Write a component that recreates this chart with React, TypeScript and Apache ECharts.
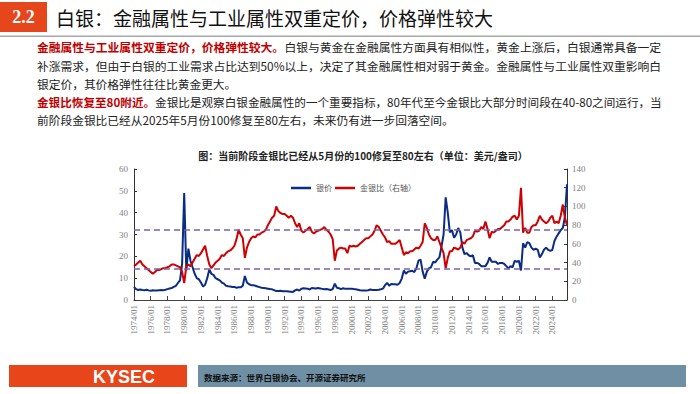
import React, { useEffect, useRef } from "react";
import * as echarts from "echarts";

// ---------- data (quarterly) ----------
const startYear = 1974;
const endYear = 2025;
const months = ["01", "04", "07", "10"];
const categories: string[] = [];
for (let y = startYear; y <= endYear; y++) for (const m of months) categories.push(`${y}/${m}`);

// 银价 (left axis, USD/oz)
const silverPrice = [
  6.0, 5.0, 4.6, 4.8, // 1974
  4.6, 4.5, 4.7, 4.4,
  4.2, 4.5, 4.3, 4.4,
  4.5, 4.6, 4.5, 4.7,
  5.0, 5.3, 5.5, 6.0,
  6.5, 7.8, 9.0, 16.5,
  49.0, 13.5, 23.5, 18.0, // 1980
  15.0, 12.0, 10.0, 9.5,
  8.0, 6.2, 7.0, 10.0,
  14.0, 12.0, 11.5, 10.0,
  9.5, 9.0, 8.0, 7.5,
  6.5, 6.3, 6.2, 6.0,
  6.0, 5.6, 5.8, 5.8,
  6.5, 11.0, 8.0, 7.2,
  6.8, 6.8, 6.5, 6.2,
  5.9, 5.6, 5.5, 5.4,
  5.2, 5.0, 4.9, 4.5, // 1990
  4.1, 4.1, 4.2, 4.0,
  4.0, 4.0, 3.9, 3.8,
  3.7, 4.4, 4.8, 4.3,
  5.2, 5.4, 5.3, 5.2,
  4.8, 5.5, 5.4, 5.3,
  5.5, 5.3, 5.1, 4.9,
  5.0, 4.8, 4.6, 5.0,
  7.5, 5.6, 5.4, 5.0,
  5.4, 5.1, 5.2, 5.2,
  5.2, 5.0, 4.9, 4.7, // 2000
  4.5, 4.4, 4.3, 4.3,
  4.5, 4.8, 4.6, 4.6,
  4.6, 4.7, 4.9, 5.2,
  6.8, 7.8, 6.6, 7.3,
  7.2, 7.2, 7.0, 7.8,
  9.8, 13.5, 12.0, 13.0,
  13.2, 13.4, 12.8, 14.5,
  18.0, 18.5, 13.0, 9.8,
  13.0, 14.5, 15.0, 17.5,
  17.2, 18.5, 19.5, 24.5, // 2010
  30.0, 47.0, 40.0, 31.0,
  32.0, 28.5, 30.0, 33.0,
  31.0, 24.0, 21.0, 21.5,
  20.5, 20.0, 20.5, 17.0,
  17.0, 16.5, 15.5, 15.5,
  15.5, 17.0, 19.5, 17.5,
  17.5, 17.5, 16.5, 17.0,
  17.0, 16.5, 15.5, 14.5,
  15.5, 15.0, 18.0, 17.5,
  18.0, 13.5, 26.0, 24.0, // 2020
  26.5, 26.0, 24.0, 23.0,
  23.5, 23.0, 19.5, 21.0,
  23.0, 24.0, 23.0, 22.5,
  23.0, 27.0, 29.0, 30.5,
  32.0, 33.0, 38.0, 53.0, // 2025
];

// 金银比 (right axis)
const goldSilverRatio = [
  36, 38, 40, 42, // 1974
  38, 36, 34, 32,
  30, 28, 30, 32,
  32, 33, 34, 34,
  35, 36, 38, 38,
  37, 36, 35, 30,
  18, 36, 38, 36, // 1980
  40, 44, 48, 47,
  50, 54, 58, 47,
  38, 34, 37, 40,
  42, 44, 48, 47,
  50, 52, 53, 55,
  58, 65, 75, 70,
  66, 45, 56, 62,
  66, 68, 67, 70,
  70, 72, 73, 75,
  80, 84, 88, 90, // 1990
  100, 95, 93, 92,
  92, 90, 88, 90,
  88, 82, 78, 82,
  74, 72, 74, 76,
  78, 73, 71, 73,
  74, 75, 76, 78,
  75, 73, 70, 65,
  42, 53, 55, 56,
  55, 55, 50, 58,
  57, 58, 57, 58, // 2000
  60, 62, 64, 66,
  66, 68, 70, 74,
  80, 78, 74, 70,
  67, 62, 63, 60,
  60, 60, 62, 64,
  56, 48, 51, 50,
  52, 52, 54, 56,
  55, 58, 62, 82,
  77, 70, 66, 64,
  64, 68, 62, 56, // 2010
  50, 34, 45, 52,
  52, 56, 55, 54,
  56, 62, 60, 64,
  65, 66, 68, 74,
  73, 74, 78, 76,
  84, 76, 66, 73,
  72, 74, 76, 76,
  78, 80, 84, 84,
  86, 89, 90, 86,
  90, 120, 72, 77, // 2020
  72, 72, 78, 80,
  80, 84, 90, 86,
  84, 82, 84, 88,
  90, 82, 84, 82,
  90, 102, 88, 80, // 2025
];

// dashed reference lines (right-axis values)
const referenceLines = [33, 75];

const seriesNames = ["银价", "金银比（右轴）"];

const headerNumber = "2.2";
const headerTitle = "白银：金融属性与工业属性双重定价，价格弹性较大";
const chartTitle = "图：当前阶段金银比已经从5月份的100修复至80左右（单位：美元/盎司）";
const sourceText = "数据来源：世界白银协会、开源证券研究所";

// paragraph lines: [redBoldPart, normalPart, justify]
const paragraphLines: [string, string, boolean][] = [
  ["金融属性与工业属性双重定价，价格弹性较大。", "白银与黄金在金融属性方面具有相似性，黄金上涨后，白银通常具备一定", true],
  ["", "补涨需求，但由于白银的工业需求占比达到50%以上，决定了其金融属性相对弱于黄金。金融属性与工业属性双重影响白", true],
  ["", "银定价，其价格弹性往往比黄金更大。", false],
  ["金银比恢复至80附近。", "金银比是观察白银金融属性的一个重要指标，80年代至今金银比大部分时间段在40-80之间运行，当", true],
  ["", "前阶段金银比已经从2025年5月份100修复至80左右，未来仍有进一步回落空间。", false],
];

const CJK = '"Noto Sans CJK SC", "Noto Sans", sans-serif';
const SERIF = '"Liberation Serif", "DejaVu Serif", serif';

export default function App() {
  const ref = useRef<HTMLDivElement>(null);

  useEffect(() => {
    if (!ref.current) return;
    const chart = echarts.init(ref.current, undefined, { renderer: "svg" });

    const pFont = 11.5;
    const canvas = document.createElement("canvas");
    const ctx = canvas.getContext("2d")!;
    const measure = (t: string, bold: boolean) => {
      ctx.font = `${bold ? "bold " : ""}${pFont}px ${CJK}`;
      return ctx.measureText(t).width;
    };
    const pLeft = 37;
    const pRight = 662;
    const lineYs = [47, 66, 84, 102, 120];
    const scales: number[] = [];
    paragraphLines.forEach(([r, n, j]) => {
      if (j) scales.push((pRight - pLeft) / (measure(r, true) + measure(n, false)));
    });
    const avgScale = scales.reduce((a, b) => a + b, 0) / scales.length;

    const paraGraphics = paragraphLines.map(([r, n, j], i) => {
      const w = measure(r, true) + measure(n, false);
      const s = j ? (pRight - pLeft) / w : avgScale;
      return {
        type: "text",
        x: pLeft,
        y: lineYs[i],
        scaleX: s,
        style: {
          text: (r ? `{r|${r}}` : "") + `{n|${n}}`,
          rich: {
            r: { fill: "#C00000", fontWeight: "bold", fontSize: pFont, fontFamily: CJK },
            n: { fill: "#222", fontSize: pFont, fontFamily: CJK },
          },
          verticalAlign: "middle",
        },
      };
    });

    const option: any = {
      animation: false,
      backgroundColor: "#ffffff",
      grid: { left: 134, right: 133, top: 169, bottom: 94 },
      legend: {
        data: seriesNames,
        left: 286,
        top: 179,
        icon: "rect",
        itemWidth: 20,
        itemHeight: 2.5,
        itemGap: 3,
        textStyle: { fontSize: 8, color: "#555", fontFamily: CJK },
      },
      xAxis: {
        type: "category",
        data: categories,
        boundaryGap: false,
        axisLine: { lineStyle: { color: "#444", width: 1 } },
        axisTick: { inside: true, length: 4, interval: 7, lineStyle: { color: "#444" } },
        axisLabel: {
          interval: 7,
          rotate: 90,
          fontSize: 9,
          color: "#808080",
          fontFamily: SERIF,
          margin: 5,
        },
        splitLine: { show: false },
      },
      yAxis: [
        {
          type: "value",
          min: 0,
          max: 60,
          interval: 10,
          axisLine: { show: true, lineStyle: { color: "#333", width: 1 } },
          axisTick: { show: true, inside: true, length: 3, lineStyle: { color: "#333" } },
          axisLabel: { fontSize: 9, color: "#808080", fontFamily: SERIF, margin: 6 },
          splitLine: { show: false },
        },
        {
          type: "value",
          min: 0,
          max: 140,
          interval: 20,
          position: "right",
          axisLine: { show: true, lineStyle: { color: "#333", width: 1 } },
          axisTick: { show: true, inside: true, length: 3, lineStyle: { color: "#333" } },
          axisLabel: { fontSize: 9, color: "#808080", fontFamily: SERIF, margin: 5 },
          splitLine: { show: false },
        },
      ],
      series: [
        {
          name: seriesNames[0],
          type: "line",
          data: silverPrice,
          yAxisIndex: 0,
          showSymbol: false,
          symbol: "none",
          color: "#0B2C84",
          lineStyle: { width: 2, color: "#0B2C84" },
          z: 2,
        },
        {
          name: seriesNames[1],
          type: "line",
          data: goldSilverRatio,
          yAxisIndex: 1,
          showSymbol: false,
          symbol: "none",
          color: "#D00000",
          lineStyle: { width: 2, color: "#D00000" },
          z: 3,
          markLine: {
            silent: true,
            symbol: "none",
            label: { show: false },
            lineStyle: { type: [6, 4], color: "#7B62A8", width: 1.5 },
            data: referenceLines.map((v) => ({ yAxis: v })),
          },
        },
      ],
      graphic: [
        { type: "rect", shape: { x: 0, y: 2, width: 47, height: 30 }, style: { fill: "#E5461C" } },
        {
          type: "text",
          x: 23.5,
          y: 17,
          style: {
            text: headerNumber,
            fill: "#fff",
            fontSize: 18,
            fontWeight: "bold",
            fontFamily: SERIF,
            align: "center",
            verticalAlign: "middle",
          },
        },
        {
          type: "text",
          x: 56,
          y: 17,
          style: {
            text: headerTitle,
            fill: "#111",
            fontSize: 19,
            fontFamily: CJK,
            verticalAlign: "middle",
          },
        },
        { type: "rect", shape: { x: 0, y: 35.5, width: 700, height: 1.5 }, style: { fill: "#A8A8A8" } },
        ...paraGraphics,
        {
          type: "text",
          x: 363,
          y: 155,
          style: {
            text: chartTitle,
            fill: "#222",
            fontSize: 10,
            fontWeight: "bold",
            fontFamily: CJK,
            align: "center",
            verticalAlign: "middle",
          },
        },
        { type: "rect", shape: { x: 9, y: 365, width: 178, height: 22 }, style: { fill: "#E8461A" } },
        {
          type: "text",
          x: 124,
          y: 376.5,
          style: {
            text: "KYSEC",
            fill: "#fff",
            fontSize: 18,
            fontWeight: "bold",
            fontFamily: '"Liberation Sans", Arial, sans-serif',
            align: "center",
            verticalAlign: "middle",
          },
        },
        { type: "rect", shape: { x: 198, y: 365, width: 488, height: 22 }, style: { fill: "#6F8FA4" } },
        {
          type: "text",
          x: 204,
          y: 376.5,
          style: {
            text: sourceText,
            fill: "#111",
            fontSize: 8.5,
            fontWeight: "bold",
            fontFamily: CJK,
            verticalAlign: "middle",
          },
        },
      ],
    };

    chart.setOption(option);
    return () => chart.dispose();
  }, []);

  return (
    <div
      ref={ref}
      style={{ position: "absolute", left: 0, top: 0, width: 700, height: 394, background: "#fff" }}
    />
  );
}
